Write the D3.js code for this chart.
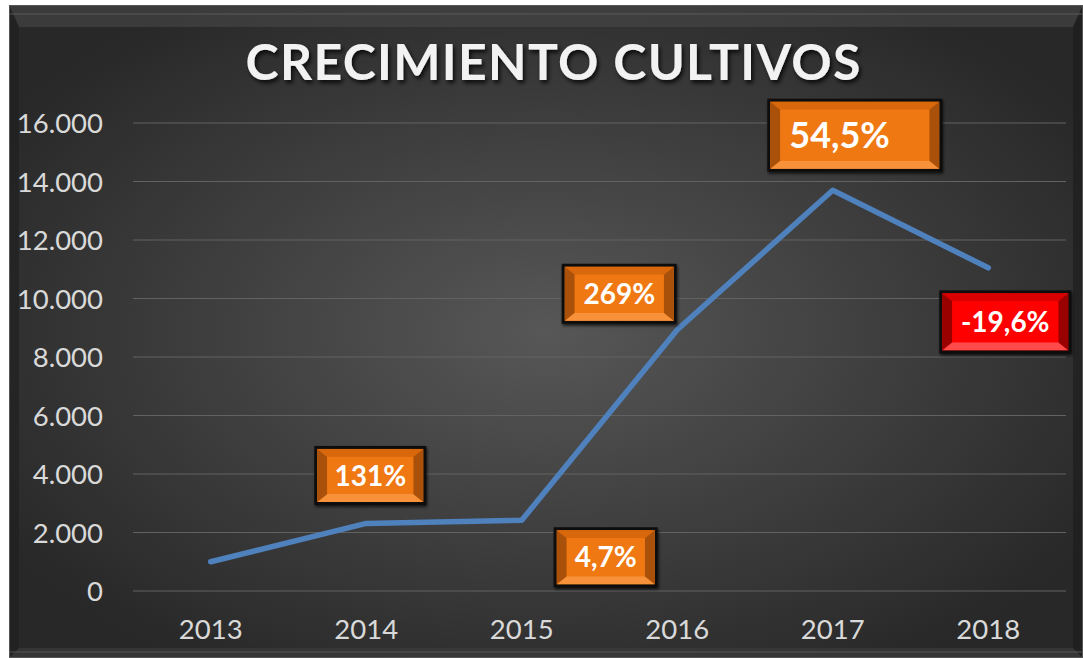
<!DOCTYPE html>
<html><head><meta charset="utf-8">
<script src="https://cdn.jsdelivr.net/npm/d3@7"></script>
<style>html,body{margin:0;padding:0;background:#fff;}svg{display:block;}</style>
</head><body>
<svg id="c" width="1083" height="658"></svg>
<script>
const years = ["2013","2014","2015","2016","2017","2018"];
const values = [1000, 2310, 2420, 8930, 13700, 11050];
const growthLabels = ["", "131%", "4,7%", "269%", "54,5%", "-19,6%"];
const yTicks = [0,2000,4000,6000,8000,10000,12000,14000,16000];
const titleText = "CRECIMIENTO CULTIVOS";

// label box layout (offsets relative to the data point)
const orange = {fill:"#f07812", top:"#d9680c", side:"#a9500a", bottom:"#f7923a"};
const red = {fill:"#ff0000", top:"#d80000", side:"#990000", bottom:"#ff4a4a"};
const boxLayout = [
  null,
  {dx:4, dy:-48, w:112, h:59, fs:28, c:orange},
  {dx:84, dy:37, w:104, h:60, fs:28, c:orange},
  {dx:-58, dy:-36, w:115, h:60, fs:28, c:orange},
  {dx:22, dy:-55, w:175, h:73, fs:36, c:orange, left:22},
  {dx:17, dy:54, w:132, h:63, fs:28, c:red}
];

const svg = d3.select("#c");
const defs = svg.append("defs");
const rg = defs.append("radialGradient").attr("id","bg").attr("cx","50%").attr("cy","50%").attr("r","60%");
rg.append("stop").attr("offset","0%").attr("stop-color","#575757");
rg.append("stop").attr("offset","100%").attr("stop-color","#282828");
const f = defs.append("filter").attr("id","sh").attr("x","-20%").attr("y","-20%").attr("width","140%").attr("height","150%");
f.append("feDropShadow").attr("dx",2).attr("dy",3).attr("stdDeviation",2).attr("flood-color","#000").attr("flood-opacity",0.8);
const f2 = defs.append("filter").attr("id","bsh").attr("x","-20%").attr("y","-20%").attr("width","140%").attr("height","150%");
f2.append("feDropShadow").attr("dx",1).attr("dy",2).attr("stdDeviation",1.5).attr("flood-color","#000").attr("flood-opacity",0.7);

// background + frame
svg.append("rect").attr("x",9).attr("y",5).attr("width",1074).attr("height",653).attr("fill","url(#bg)");
const fx0=9, fy0=5, fx1=1083, fy1=658, bw=10;
svg.append("polygon").attr("points",`${fx0},${fy0} ${fx1},${fy0} ${fx1-bw},${fy0+bw+12} ${fx0+bw},${fy0+bw+12}`).attr("fill","#4a4a4a").attr("opacity",0.55);
svg.append("polygon").attr("points",`${fx0},${fy0} ${fx0+bw},${fy0+bw+12} ${fx0+bw},${fy1-bw} ${fx0},${fy1}`).attr("fill","#1e1e1e").attr("opacity",0.6);
svg.append("polygon").attr("points",`${fx1},${fy0} ${fx1},${fy1} ${fx1-bw},${fy1-bw} ${fx1-bw},${fy0+bw+12}`).attr("fill","#1a1a1a").attr("opacity",0.6);
svg.append("polygon").attr("points",`${fx0},${fy1} ${fx0+bw},${fy1-bw} ${fx1-bw},${fy1-bw} ${fx1},${fy1}`).attr("fill","#3a3a3a").attr("opacity",0.7);
svg.append("rect").attr("x",fx0+0.5).attr("y",fy0+0.5).attr("width",fx1-fx0-1).attr("height",fy1-fy0-1).attr("fill","none").attr("stroke","#555").attr("stroke-width",1);
svg.append("line").attr("x1",fx0).attr("x2",fx1).attr("y1",fy0+9).attr("y2",fy0+9).attr("stroke","#5a5a5a").attr("stroke-width",1);
svg.append("line").attr("x1",fx0).attr("x2",fx1).attr("y1",fy1-6).attr("y2",fy1-6).attr("stroke","#555").attr("stroke-width",1);

const x = d3.scaleBand().domain(years).range([133,1066]);
const y = d3.scaleLinear().domain([0,16000]).range([591,123]);

// gridlines
svg.append("g").selectAll("line").data(yTicks).join("line")
  .attr("x1",133).attr("x2",1066).attr("y1",d=>y(d)).attr("y2",d=>y(d))
  .attr("stroke","#626262").attr("stroke-width",1.2);

// y axis
const yAxis = d3.axisLeft(y).tickValues(yTicks).tickSize(0).tickPadding(0)
  .tickFormat(d=>d3.format(",")(d).replace(/,/g,"."));
const gy = svg.append("g").attr("transform","translate(103,0)").call(yAxis);
gy.select(".domain").remove();
gy.selectAll("text").attr("fill","#d9d9d9").attr("font-family","Lato").attr("font-size",27.5).attr("dy","0.36em");

// x axis
const xAxis = d3.axisBottom(x).tickSize(0).tickPadding(0);
const gx = svg.append("g").attr("transform","translate(0,618)").call(xAxis);
gx.select(".domain").remove();
gx.selectAll("text").attr("fill","#d9d9d9").attr("font-family","Lato").attr("font-size",27.5).attr("dy","0.75em");

// line
const line = d3.line().x((d,i)=>x(years[i])+x.bandwidth()/2).y(d=>y(d));
svg.append("path").datum(values).attr("d",line).attr("fill","none")
  .attr("stroke","#4f81bd").attr("stroke-width",5.5).attr("stroke-linecap","round").attr("stroke-linejoin","round");

// labels
values.forEach((v,i)=>{
  const L = boxLayout[i]; if(!L) return;
  const C = L.c;
  const cx = x(years[i])+x.bandwidth()/2 + L.dx, cy = y(v) + L.dy;
  const x0 = cx-L.w/2, y0 = cy-L.h/2, x1 = cx+L.w/2, y1 = cy+L.h/2;
  const g = svg.append("g");
  g.append("rect").attr("x",x0).attr("y",y0).attr("width",L.w).attr("height",L.h).attr("fill","#111").attr("filter","url(#bsh)");
  const o=3, b=10, bv=8;
  const a0=x0+o, b0=y0+o, a1=x1-o, b1=y1-o;
  g.append("rect").attr("x",a0).attr("y",b0).attr("width",a1-a0).attr("height",b1-b0).attr("fill",C.fill);
  g.append("polygon").attr("points",`${a0},${b0} ${a1},${b0} ${a1-b},${b0+bv} ${a0+b},${b0+bv}`).attr("fill",C.top);
  g.append("polygon").attr("points",`${a0},${b1} ${a1},${b1} ${a1-b},${b1-bv} ${a0+b},${b1-bv}`).attr("fill",C.bottom);
  g.append("polygon").attr("points",`${a0},${b0} ${a0+b},${b0+bv} ${a0+b},${b1-bv} ${a0},${b1}`).attr("fill",C.side);
  g.append("polygon").attr("points",`${a1},${b0} ${a1-b},${b0+bv} ${a1-b},${b1-bv} ${a1},${b1}`).attr("fill",C.side);
  g.append("rect").attr("x",a0+b).attr("y",b0+bv).attr("width",a1-a0-2*b).attr("height",b1-b0-2*bv).attr("fill",C.fill);
  g.append("text").attr("y",cy).attr("dy","0.36em")
    .attr("text-anchor",L.left?"start":"middle")
    .attr("x", L.left ? x0+L.left : cx)
    .attr("fill","#fff").attr("font-family","Lato").attr("font-weight","bold").attr("font-size",L.fs)
    .text(growthLabels[i]);
});

// title
svg.append("text").attr("x",553).attr("y",80).attr("text-anchor","middle")
  .attr("fill","#f2f2f2").attr("font-family","Lato").attr("font-weight","bold").attr("font-size",50)
  .attr("textLength",615).attr("lengthAdjust","spacing").attr("filter","url(#sh)")
  .text(titleText);
</script>
</body></html>
